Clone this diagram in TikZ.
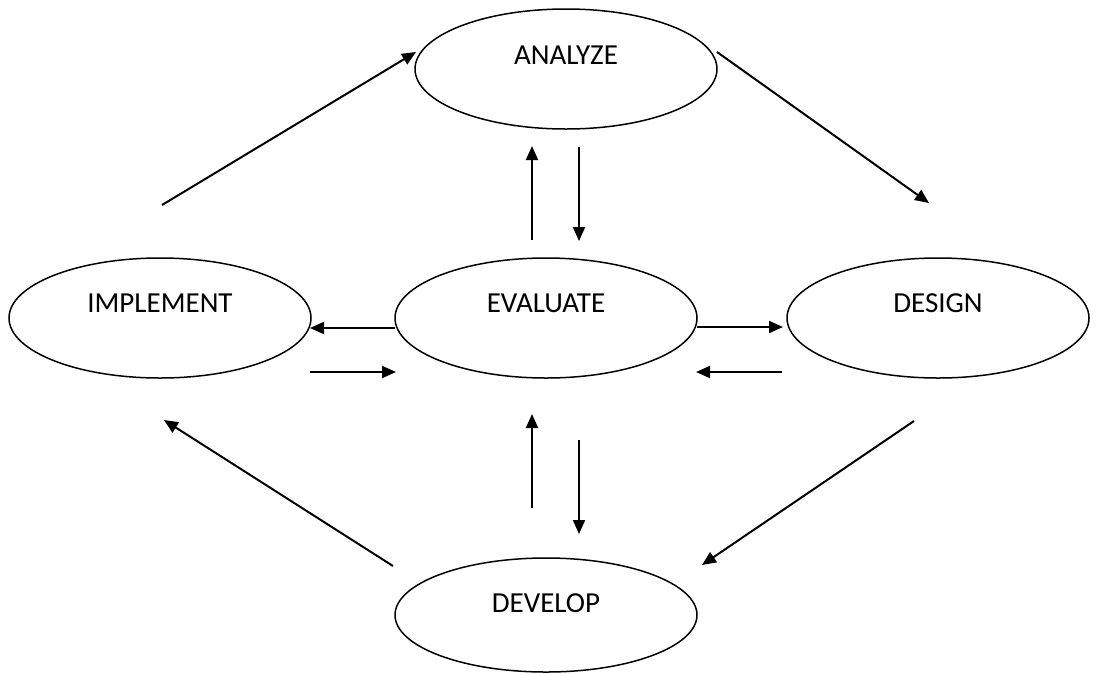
\documentclass[tikz,border=0pt]{standalone}
\usepackage{fontspec}
\setmainfont{Carlito}
\usetikzlibrary{shapes.geometric,arrows.meta}
\begin{document}
\begin{tikzpicture}[x=1pt,y=-1pt,
  ell/.style={draw,ellipse,line width=1.5pt,minimum width=302pt,minimum height=120pt,inner sep=0pt},
  lbl/.style={font=\fontsize{29}{34}\selectfont,inner sep=0pt},
  arr/.style={line width=2pt,-{Triangle[length=14pt,width=12pt]}}]
\useasboundingbox (0,0) rectangle (1102,673);
\fill[white] (0,0) rectangle (1102,673);
% nodes
\node[ell] (an) at (566,69) {};
\node[ell] (im) at (160,318) {};
\node[ell] (ev) at (546,318) {};
\node[ell] (de) at (938,318) {};
\node[ell,minimum height=114pt] (dv) at (546,615) {};
\node[lbl] (tan) at ([yshift=14pt]an.center) {ANALYZE};
\node[lbl] (tim) at ([yshift=15pt]im.center) {IMPLEMENT};
\node[lbl] (tev) at ([yshift=15pt]ev.center) {EVALUATE};
\node[lbl] (tde) at ([yshift=15pt]de.center) {DESIGN};
\node[lbl] (tdv) at ([yshift=12pt]dv.center) {DEVELOP};
% coordinates for free ends
\coordinate (a1) at (162,205); \coordinate (a2) at (416,52);
\coordinate (b1) at (717,52);  \coordinate (b2) at (929,203);
\coordinate (c1) at (532,240); \coordinate (c2) at (532,146);
\coordinate (d1) at (579,147); \coordinate (d2) at (579,241);
\coordinate (e1) at (395,328); \coordinate (e2) at (310,328);
\coordinate (f1) at (310,372); \coordinate (f2) at (396,372);
\coordinate (g1) at (697,327); \coordinate (g2) at (783,327);
\coordinate (h1) at (782,372); \coordinate (h2) at (696,372);
\coordinate (i1) at (532,508); \coordinate (i2) at (532,414);
\coordinate (j1) at (579,440); \coordinate (j2) at (579,534);
\coordinate (k1) at (393,566); \coordinate (k2) at (164,420);
\coordinate (l1) at (914,421); \coordinate (l2) at (702,565);
% connectors
\draw[arr] (a1) -- (a2);
\draw[arr] (b1) -- (b2);
\draw[arr] (c1) -- (c2);
\draw[arr] (d1) -- (d2);
\draw[arr] (e1) -- (e2);
\draw[arr] (f1) -- (f2);
\draw[arr] (g1) -- (g2);
\draw[arr] (h1) -- (h2);
\draw[arr] (i1) -- (i2);
\draw[arr] (j1) -- (j2);
\draw[arr] (k1) -- (k2);
\draw[arr] (l1) -- (l2);
\end{tikzpicture}
\end{document}
